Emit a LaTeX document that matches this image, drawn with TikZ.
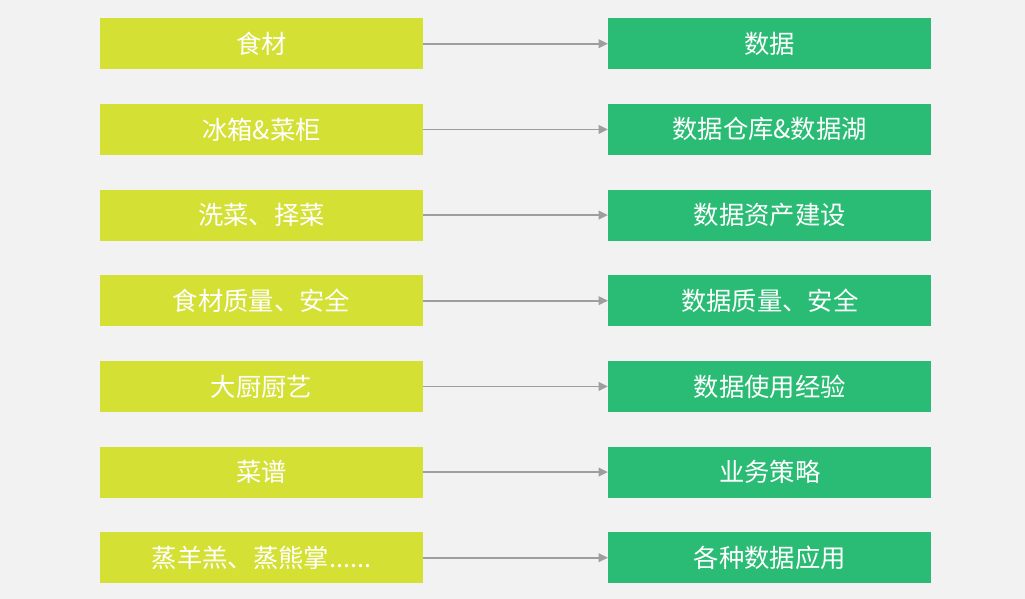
\documentclass[tikz,border=0pt]{standalone}
\usepackage{fontspec}
\setmainfont{Noto Sans CJK SC}
\usetikzlibrary{positioning,arrows.meta}
\definecolor{bggrey}{HTML}{F2F2F2}
\definecolor{leftgreen}{HTML}{D4E034}
\definecolor{rightgreen}{HTML}{2ABC74}
\definecolor{arrowgrey}{HTML}{9E9E9E}

\begin{document}
\begin{tikzpicture}[
    box/.style={minimum width=242.25pt, minimum height=38.25pt, inner sep=0pt,
        text=white, font=\fontsize{19pt}{21pt}\selectfont},
    food/.style={box, fill=leftgreen},
    data/.style={box, fill=rightgreen},
    link/.style={arrowgrey, line width=1.3pt, -{Triangle[length=7pt,width=6.5pt]}},
    node distance=25.6pt and 138.5pt
]
    \fill[bggrey] (0,0) rectangle (768.75pt,-449.25pt);
    \useasboundingbox (0,0) rectangle (768.75pt,-449.25pt);

    \node[food] (l1) at (196.1pt,-32.8pt) {食材};
    \node[food, below = of l1] (l2) {冰箱\&菜柜};
    \node[food, below = of l2] (l3) {洗菜、择菜};
    \node[food, below = of l3] (l4) {食材质量、安全};
    \node[food, below = of l4] (l5) {大厨厨艺};
    \node[food, below = of l5] (l6) {菜谱};
    \node[food, below = of l6] (l7) {蒸羊羔、蒸熊掌......};

    \node[data, right = of l1] (r1) {数据};
    \node[data, right = of l2] (r2) {数据仓库\&数据湖};
    \node[data, right = of l3] (r3) {数据资产建设};
    \node[data, right = of l4] (r4) {数据质量、安全};
    \node[data, right = of l5] (r5) {数据使用经验};
    \node[data, right = of l6] (r6) {业务策略};
    \node[data, right = of l7] (r7) {各种数据应用};

    \draw[link] (l1) -- (r1);
    \draw[link] (l2) -- (r2);
    \draw[link] (l3) -- (r3);
    \draw[link] (l4) -- (r4);
    \draw[link] (l5) -- (r5);
    \draw[link] (l6) -- (r6);
    \draw[link] (l7) -- (r7);
\end{tikzpicture}
\end{document}
